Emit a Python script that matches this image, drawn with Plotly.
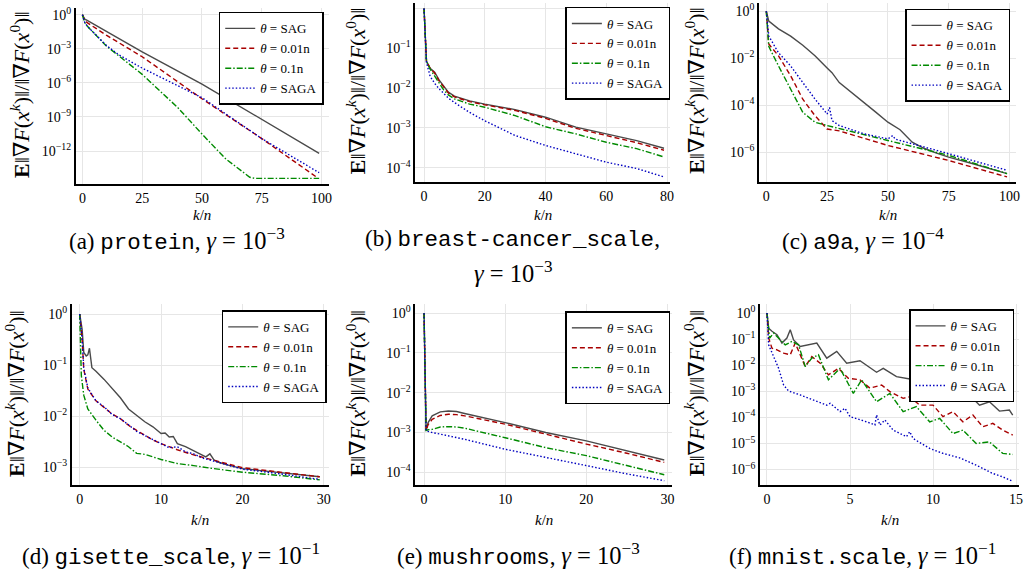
import numpy as np
import plotly.graph_objects as go

W, H = 1027, 576

# ---------------- data (y values given as log10 of the ratio) ----------------
# (a) protein
A_SAG_X = [0, 1, 2, 10, 25, 50, 75, 99]
A_SAG_Y = [0, -0.4, -0.5, -1.45, -3.27, -6.1, -9.2, -12.2]
A_R_X = [0, 1, 2, 10, 25, 50, 75, 98]
A_R_Y = [0, -0.5, -0.7, -1.8, -3.7, -7.4, -10.9, -14.3]
A_G_X = [0, 1, 2, 10, 25, 40, 50, 60, 70, 72, 99]
A_G_Y = [0, -0.7, -1.0, -2.75, -5.25, -8.2, -10.5, -12.7, -14.3, -14.4, -14.4]
A_B_X = [0, 1, 2, 10, 15, 25, 50, 75, 99]
A_B_Y = [0, -0.7, -1.0, -2.7, -3.5, -4.7, -7.3, -10.9, -13.9]

# (b) breast-cancer_scale
B_X = [0, 0.5, 0.8, 2, 3.5, 5, 6.5, 8, 10, 15, 20, 30, 40, 50, 60, 70, 79]
B_SAG_Y = [0, -0.8, -1.32, -1.5, -1.6, -1.8, -1.95, -2.1, -2.2, -2.32, -2.4, -2.54, -2.73, -2.98, -3.15, -3.32, -3.51]
B_R_Y = [0, -0.8, -1.32, -1.5, -1.62, -1.82, -1.98, -2.12, -2.22, -2.34, -2.42, -2.56, -2.76, -3.01, -3.19, -3.37, -3.56]
B_G_Y = [0, -0.8, -1.32, -1.52, -1.7, -1.9, -2.05, -2.17, -2.27, -2.4, -2.48, -2.69, -2.97, -3.15, -3.36, -3.52, -3.73]
B_B_Y = [0, -0.8, -1.35, -1.7, -1.88, -2.02, -2.14, -2.25, -2.36, -2.61, -2.82, -3.19, -3.44, -3.65, -3.86, -4.02, -4.23]

# (c) a9a
C_SAG_X = [0, 1, 5, 10, 15, 20, 25, 27, 30, 35, 40, 45, 50, 55, 60, 65, 70, 75, 85, 99]
C_SAG_Y = [0, -0.42, -0.75, -1.06, -1.45, -1.9, -2.42, -2.62, -3.04, -3.45, -3.88, -4.3, -4.73, -5.05, -5.58, -5.85, -6.05, -6.22, -6.5, -6.92]
C_R_X = [0, 0.5, 1, 5, 10, 15, 20, 25, 30, 50, 75, 99]
C_R_Y = [0, -0.8, -1.4, -1.9, -2.75, -3.75, -4.45, -5.02, -5.1, -5.72, -6.36, -7.06]
C_G_X = [0, 0.5, 1, 5, 10, 15, 20, 25, 50, 75, 99]
C_G_Y = [0, -0.9, -1.5, -2.33, -3.32, -4.31, -4.73, -4.87, -5.51, -6.14, -6.92]
C_B_X = [0, 0.5, 1, 5, 10, 15, 20, 25, 26, 27, 30, 40, 50, 52, 53, 60, 75, 99]
C_B_Y = [0, -0.6, -1.06, -1.77, -2.33, -3.04, -3.74, -4.38, -4.1, -4.66, -4.87, -5.22, -5.44, -5.3, -5.45, -5.65, -6.07, -6.78]

# (d) gisette_scale
D_SAG_X = [0, 0.3, 0.5, 0.8, 1.0, 1.2, 1.5, 2, 3, 4, 5, 6, 7, 8, 9, 10, 10.5, 11, 11.5, 12, 13, 14, 15, 15.5, 16, 16.5, 17, 18, 20, 25, 29.5]
D_SAG_Y = [0, -0.3, -0.75, -0.82, -0.8, -0.67, -1.05, -1.12, -1.28, -1.46, -1.64, -1.86, -1.99, -2.11, -2.21, -2.34, -2.33, -2.41, -2.4, -2.54, -2.6, -2.68, -2.76, -2.8, -2.74, -2.86, -2.9, -2.95, -3.03, -3.12, -3.19]
D_R_X = [0, 0.3, 0.5, 1, 2, 3, 4, 5, 6, 7, 8, 9, 10, 11, 12, 14, 16, 18, 20, 25, 29.5]
D_R_Y = [0, -0.5, -1.08, -1.47, -1.7, -1.83, -1.96, -2.05, -2.18, -2.28, -2.37, -2.47, -2.54, -2.6, -2.66, -2.76, -2.85, -2.93, -3.01, -3.1, -3.19]
D_G_X = [0, 0.2, 0.5, 1, 2, 3, 4, 5, 6, 7, 8, 10, 12, 14, 16, 20, 25, 29.5]
D_G_Y = [0, -1.2, -1.59, -1.86, -2.08, -2.28, -2.41, -2.51, -2.6, -2.73, -2.75, -2.85, -2.93, -2.97, -3.02, -3.1, -3.17, -3.25]
D_B_X = [0, 0.3, 0.5, 1, 2, 3, 4, 5, 6, 7, 8, 9, 10, 11, 12, 12.5, 13, 14, 15, 16, 18, 20, 25, 29.5]
D_B_Y = [0, -0.5, -1.05, -1.45, -1.7, -1.82, -1.97, -2.05, -2.17, -2.3, -2.38, -2.46, -2.55, -2.62, -2.6, -2.65, -2.7, -2.74, -2.82, -2.86, -2.95, -3.04, -3.14, -3.24]

# (e) mushrooms
E_X = [0, 0.25, 0.5, 1, 2, 3, 4, 5, 10, 15, 20, 25, 29.6]
E_SAG_Y = [0, -2.95, -2.75, -2.58, -2.48, -2.46, -2.47, -2.52, -2.75, -3.0, -3.21, -3.46, -3.69]
E_R_Y = [0, -2.95, -2.8, -2.67, -2.57, -2.54, -2.55, -2.58, -2.79, -3.04, -3.29, -3.52, -3.75]
E_G_Y = [0, -2.95, -2.93, -2.92, -2.86, -2.85, -2.86, -2.89, -3.13, -3.38, -3.58, -3.83, -4.06]
E_B_Y = [0, -2.95, -2.97, -3.0, -3.04, -3.08, -3.12, -3.17, -3.42, -3.62, -3.83, -4.04, -4.21]

# (f) mnist.scale
F_SAG_X = [0, 0.1, 0.3, 0.6, 0.9, 1.2, 1.4, 1.6, 2.0, 2.5, 3.0, 3.6, 4.2, 4.8, 5.6, 6.6, 7.0, 7.8, 8.6, 9.2, 9.8, 10.4, 11.0, 11.6, 12.2, 12.8, 13.4, 14.0, 14.6, 14.8]
F_SAG_Y = [0, -0.58, -0.7, -0.83, -1.15, -0.96, -0.64, -1.03, -1.28, -1.22, -1.15, -1.73, -1.47, -1.92, -1.83, -2.27, -2.12, -2.44, -2.53, -2.44, -2.76, -3.0, -2.95, -3.33, -3.14, -3.53, -3.4, -3.76, -3.72, -3.91]
F_R_X = [0, 0.1, 0.3, 0.6, 1.0, 1.4, 1.7, 2.0, 2.3, 2.7, 3.2, 3.7, 4.3, 4.9, 5.6, 6.2, 6.9, 7.4, 8.2, 8.6, 9.2, 10.0, 10.6, 11.2, 11.8, 12.4, 13.0, 13.6, 14.2, 14.8]
F_R_Y = [0, -0.96, -1.35, -1.41, -1.54, -1.6, -1.15, -1.6, -2.05, -1.67, -1.92, -2.37, -2.12, -2.5, -2.56, -2.88, -2.76, -3.01, -3.27, -3.21, -3.53, -3.53, -3.97, -3.78, -4.17, -3.91, -4.36, -4.23, -4.49, -4.68]
F_G_X = [0, 0.16, 0.4, 0.8, 1.1, 1.5, 1.9, 2.3, 2.7, 3.1, 3.7, 4.4, 5.2, 5.7, 6.6, 7.4, 8.2, 9.0, 9.8, 10.4, 11.2, 11.8, 12.6, 13.4, 14.2, 14.8]
F_G_Y = [0, -0.96, -0.77, -1.03, -1.22, -1.09, -1.22, -2.05, -1.73, -1.6, -2.56, -2.12, -3.08, -2.56, -3.4, -3.08, -3.78, -3.59, -4.17, -4.04, -4.62, -4.49, -5.0, -4.94, -5.38, -5.42]
F_B_X = [0, 0.1, 0.4, 0.7, 1.0, 1.3, 2.0, 3.0, 3.6, 3.8, 4.4, 4.7, 5.0, 6.0, 6.5, 6.6, 6.8, 7.1, 7.6, 8.4, 8.6, 8.8, 9.8, 10.6, 11.6, 12.6, 13.6, 14.2, 14.6, 14.8]
F_B_Y = [0, -1.22, -1.67, -2.12, -2.76, -2.99, -3.14, -3.4, -3.53, -3.46, -3.78, -3.65, -3.97, -4.17, -4.29, -3.91, -4.29, -4.1, -4.49, -4.74, -4.55, -4.81, -5.19, -5.38, -5.55, -5.83, -6.15, -6.28, -6.41, -6.45]

SERIES_NAMES = ["SAG", "0.01n", "0.1n", "SAGA"]
X_TICKS = [[0, 25, 50, 75, 100], [0, 20, 40, 60, 80], [0, 25, 50, 75, 100],
           [0, 10, 20, 30], [0, 10, 20, 30], [0, 5, 10, 15]]
Y_TICK_EXP = [[0, -3, -6, -9, -12], [0, -1, -2, -3, -4], [0, -2, -4, -6],
              [0, -1, -2, -3], [0, -1, -2, -3, -4], [0, -1, -2, -3, -4, -5, -6]]
DATASETS = ["protein", "breast-cancer_scale", "a9a", "gisette_scale", "mushrooms", "mnist.scale"]
LETTERS = ["a", "b", "c", "d", "e", "f"]
GAMMA_EXP = ["−3", "−3", "−4", "−1", "−3", "−1"]

MONO = "'Liberation Mono', 'DejaVu Sans Mono', monospace"
SERIF = "'Liberation Serif', 'DejaVu Serif', serif"


def caption_parts(i):
    mono = f"<span style=\"font-family:{MONO};font-size:22.5px\">{DATASETS[i]}</span>"
    math = (f"<span style=\"font-size:24.5px\"><i>γ</i>&nbsp;=&nbsp;10"
            f"<sup>{GAMMA_EXP[i]}</sup></span>")
    if i == 1:
        return [f"({LETTERS[i]}) {mono},", math]
    return [f"({LETTERS[i]}) {mono}, {math}"]


PANELS = [
    [(A_SAG_X, A_SAG_Y), (A_R_X, A_R_Y), (A_G_X, A_G_Y), (A_B_X, A_B_Y)],
    [(B_X, B_SAG_Y), (B_X, B_R_Y), (B_X, B_G_Y), (B_X, B_B_Y)],
    [(C_SAG_X, C_SAG_Y), (C_R_X, C_R_Y), (C_G_X, C_G_Y), (C_B_X, C_B_Y)],
    [(D_SAG_X, D_SAG_Y), (D_R_X, D_R_Y), (D_G_X, D_G_Y), (D_B_X, D_B_Y)],
    [(E_X, E_SAG_Y), (E_X, E_R_Y), (E_X, E_G_Y), (E_X, E_B_Y)],
    [(F_SAG_X, F_SAG_Y), (F_R_X, F_R_Y), (F_G_X, F_G_Y), (F_B_X, F_B_Y)],
]

# ---------------- layout geometry (pixels) ----------------
BOX = [  # x0, x1, y0(top), y1(bottom)
    (76, 330, 5, 182), (417, 673, 0, 180), (762, 1020, 0, 180),
    (72, 330, 303, 485), (417, 675, 303, 485), (763, 1023, 303, 485),
]
XR = [(-2.8, 103.0), (-2.85, 81.1), (-3.0, 102.7), (-0.98, 30.6), (-1.07, 30.6), (-0.42, 15.18)]
YR = [(-14.9, 0.59), (-4.36, 0.14), (-7.28, 0.35), (-3.36, 0.19), (-4.33, 0.22), (-6.61, 0.33)]
LEG = [(325, 9), (673, 4), (1014, 6), (328, 309), (673, 310), (1018, 308)]
YTITLE_X = [20, 357, 697, 15, 357, 697]
CAP_X = [178, 515, 866, 172, 521, 866]
CAP_Y = [[238], [238, 270], [238], [555], [555], [555]]

STYLES = [
    dict(color="#4a4a4a", dash="solid"),
    dict(color="#a80000", dash="5px,3px"),
    dict(color="#008a00", dash="6px,2px,1.5px,2px"),
    dict(color="#0000c0", dash="1.5px,2px"),
]

fig = go.Figure()
layout = dict(width=W, height=H, margin=dict(l=0, r=0, t=0, b=0),
              paper_bgcolor="white", plot_bgcolor="white",
              font=dict(family=SERIF, size=14, color="black"), annotations=[])

for i in range(6):
    k = i + 1
    sfx = "" if k == 1 else str(k)
    legname = "legend" if k == 1 else f"legend{k}"
    for j, (xs, ys) in enumerate(PANELS[i]):
        st = STYLES[j]
        fig.add_trace(go.Scatter(
            x=xs, y=10 ** np.array(ys, dtype=float), mode="lines",
            name=f"<i>θ</i> = {SERIES_NAMES[j]}",
            line=dict(color=st["color"], dash=st["dash"], width=1.4),
            xaxis=f"x{sfx}", yaxis=f"y{sfx}", legend=legname, showlegend=True))
    x0, x1, y0, y1 = BOX[i]
    layout[f"xaxis{sfx}"] = dict(
        domain=[x0 / W, x1 / W], range=list(XR[i]), anchor=f"y{sfx}",
        tickvals=X_TICKS[i], showline=True, linecolor="black", linewidth=1.6,
        showgrid=True, gridcolor="#e6e6e6", gridwidth=1, zeroline=False,
        ticks="", ticklen=0, tickfont=dict(size=14, family=SERIF))
    layout[f"yaxis{sfx}"] = dict(
        domain=[1 - y1 / H, 1 - y0 / H], type="log", range=list(YR[i]), anchor=f"x{sfx}",
        tickvals=[10.0 ** e for e in Y_TICK_EXP[i]],
        ticktext=[f"10<sup>{'−' if e < 0 else ''}{abs(e)}</sup>" for e in Y_TICK_EXP[i]],
        showline=True, linecolor="black", linewidth=1.6,
        showgrid=True, gridcolor="#e6e6e6", gridwidth=1, zeroline=False,
        ticks="", ticklen=0, tickfont=dict(size=14, family=SERIF))
    lx, ly = LEG[i]
    layout[legname] = dict(
        x=lx / W, y=1 - ly / H, xanchor="right", yanchor="top",
        bgcolor="white", bordercolor="black", borderwidth=1.5,
        font=dict(family=SERIF, size=13), itemwidth=30, tracegroupgap=0)
    # axis titles
    layout["annotations"].append(dict(
        text="<i>k</i>/<i>n</i>", xref="paper", yref="paper",
        x=(x0 + x1) / 2 / W, y=1 - (213 if i < 3 else 520) / H,
        showarrow=False, font=dict(size=15, family=SERIF), xanchor="center", yanchor="middle"))
    layout["annotations"].append(dict(
        text="<b>E</b>‖∇<i>F</i>(<i>x</i><sup><i>k</i></sup>)‖/‖∇<i>F</i>(<i>x</i><sup>0</sup>)‖",
        xref="paper", yref="paper", x=YTITLE_X[i] / W, y=1 - ((y0 + y1) / 2 - 2) / H,
        textangle=-90, showarrow=False, font=dict(size=22, family=SERIF),
        xanchor="center", yanchor="middle"))
    for txt, cy in zip(caption_parts(i), CAP_Y[i]):
        layout["annotations"].append(dict(
            text=txt, xref="paper", yref="paper", x=CAP_X[i] / W, y=1 - cy / H,
            showarrow=False, font=dict(size=23, family=SERIF), xanchor="center",
            yanchor="middle", align="center"))

fig.update_layout(**layout)
fig.write_html("out.html", config={"displayModeBar": False},
               post_script="document.body.style.margin='0px';")
